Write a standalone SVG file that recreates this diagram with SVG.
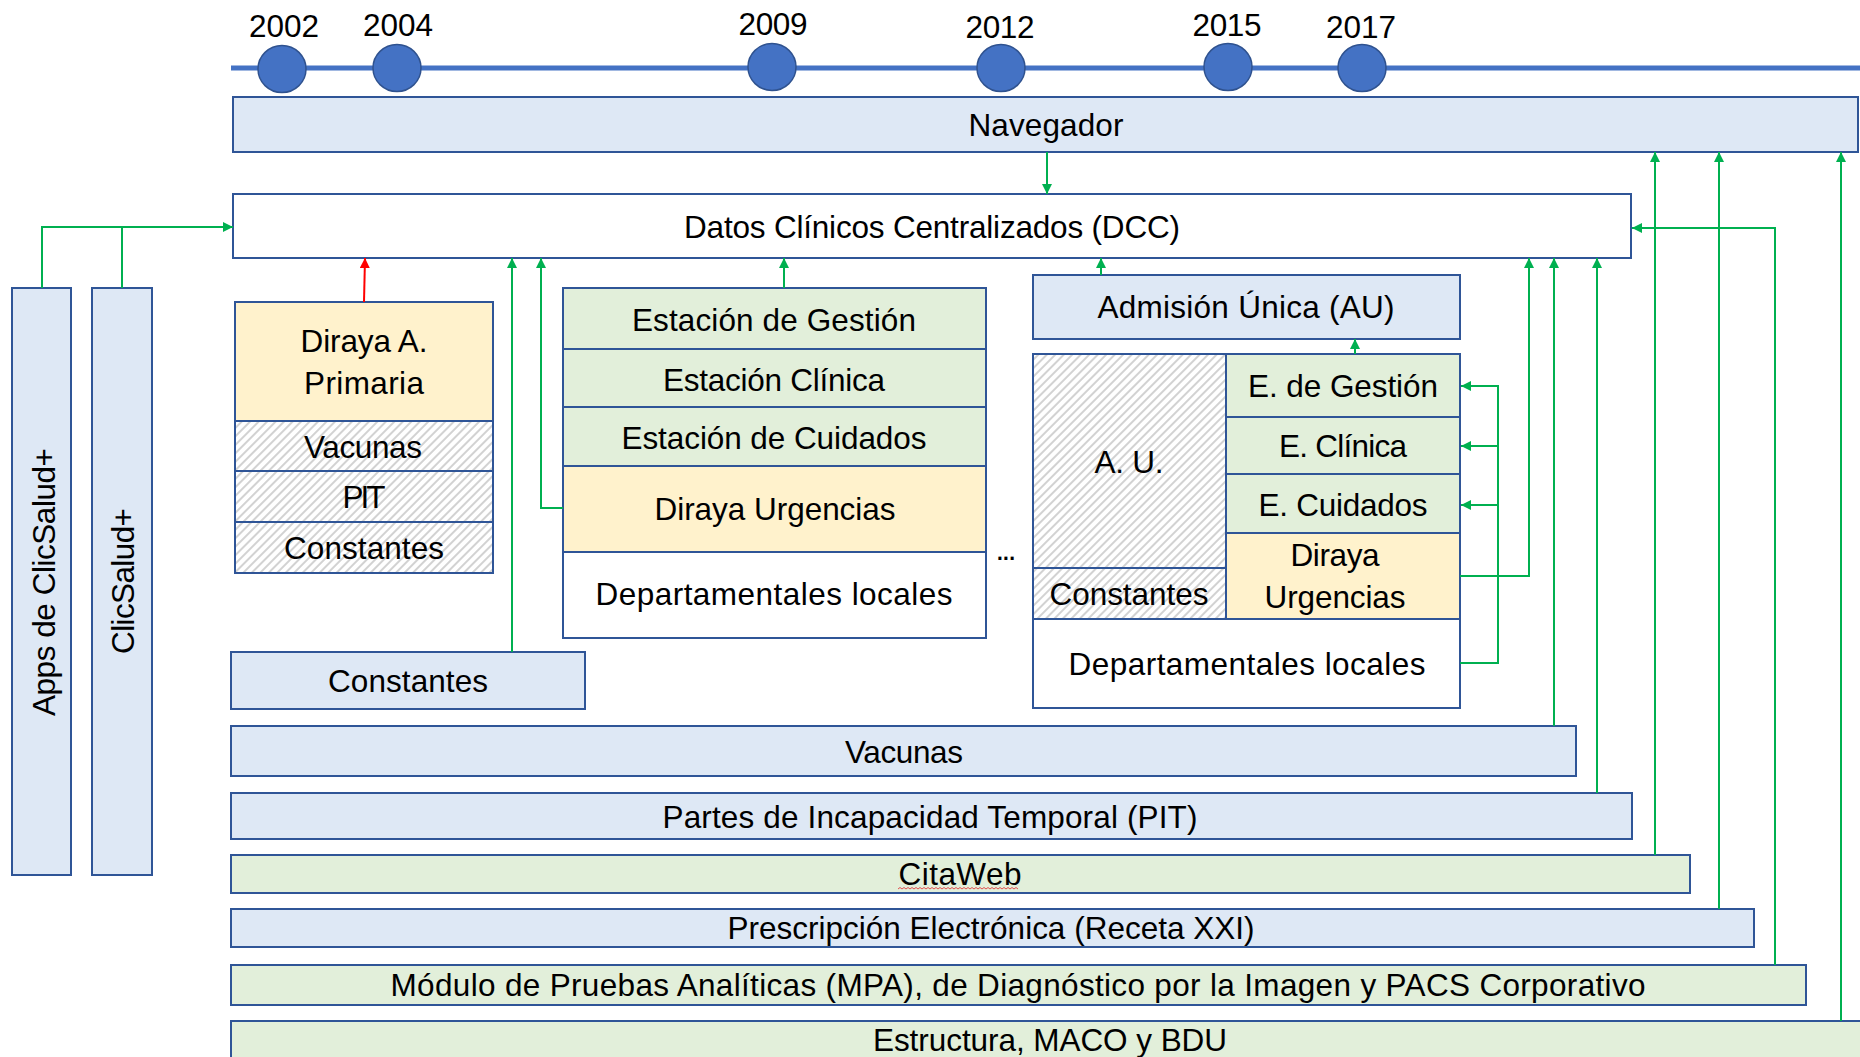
<svg xmlns="http://www.w3.org/2000/svg" width="1860" height="1057" viewBox="0 0 1860 1057">
<defs>
<style>
.t{font-family:"Liberation Sans",Arial,sans-serif;font-size:31.5px;fill:#000;text-anchor:middle}
.b{fill:#dee8f5;stroke:#2f5597;stroke-width:2}
.g{fill:#e2efda;stroke:#2f5597;stroke-width:2}
.y{fill:#fff2cc;stroke:#2f5597;stroke-width:2}
.w{fill:#ffffff;stroke:#2f5597;stroke-width:2}
.h{fill:url(#hatch);stroke:#2f5597;stroke-width:2}
.c{fill:none;stroke:#00b050;stroke-width:2}
.yr{fill:#4472c4;stroke:#2f528f;stroke-width:1.5}
</style>
<pattern id="hatch" patternUnits="userSpaceOnUse" width="6" height="6" patternTransform="rotate(45)">
<rect width="6" height="6" fill="#ffffff"/>
<line x1="1" y1="0" x2="1" y2="6" stroke="#b4b4b4" stroke-width="1.2"/>
</pattern>
<marker id="ag" viewBox="0 0 10 10" refX="10" refY="5" markerWidth="11" markerHeight="10" markerUnits="userSpaceOnUse" orient="auto">
<path d="M0,0 L10,5 L0,10 z" fill="#00b050"/>
</marker>
<marker id="ar" viewBox="0 0 10 10" refX="10" refY="5" markerWidth="11" markerHeight="10" markerUnits="userSpaceOnUse" orient="auto">
<path d="M0,0 L10,5 L0,10 z" fill="#ff0000"/>
</marker>
</defs>
<rect width="1860" height="1057" fill="#ffffff"/>

<g id="timeline">
<line x1="231" y1="68" x2="1860" y2="68" stroke="#4472c4" stroke-width="5"/>
<ellipse class="yr" cx="282" cy="69" rx="24" ry="23.5"/>
<ellipse class="yr" cx="397" cy="68" rx="24" ry="23.5"/>
<ellipse class="yr" cx="772" cy="67" rx="24" ry="23.5"/>
<ellipse class="yr" cx="1001" cy="68" rx="24" ry="23.5"/>
<ellipse class="yr" cx="1228" cy="67" rx="24" ry="23.5"/>
<ellipse class="yr" cx="1362" cy="68" rx="24" ry="23.5"/>
<text class="t" x="284" y="37" font-size="31" textLength="70">2002</text>
<text class="t" x="398" y="36" font-size="31" textLength="70">2004</text>
<text class="t" x="773" y="35" font-size="31" textLength="69">2009</text>
<text class="t" x="1000" y="38" font-size="31" textLength="69">2012</text>
<text class="t" x="1227" y="36" font-size="31" textLength="69">2015</text>
<text class="t" x="1361" y="38" font-size="31" textLength="70">2017</text>
</g>

<g id="navegador">
<rect class="b" x="233" y="97" width="1625" height="55"/>
<text class="t" x="1046" y="136" textLength="155">Navegador</text>
</g>

<g id="dcc">
<rect class="w" x="233" y="194" width="1398" height="64"/>
<text class="t" x="932" y="238" textLength="496">Datos Clínicos Centralizados (DCC)</text>
</g>

<g id="apps-clicsalud">
<rect class="b" x="12" y="288" width="59" height="587"/>
<text class="t" transform="translate(55,582) rotate(-90)" font-size="33" textLength="268">Apps de ClicSalud+</text>
</g>

<g id="clicsalud">
<rect class="b" x="92" y="288" width="60" height="587"/>
<text class="t" transform="translate(134,581) rotate(-90)" font-size="33" textLength="146">ClicSalud+</text>
</g>

<g id="diraya-ap">
<rect class="y" x="235" y="302" width="258" height="119"/>
<rect class="h" x="235" y="421" width="258" height="50"/>
<rect class="h" x="235" y="471" width="258" height="51"/>
<rect class="h" x="235" y="522" width="258" height="51"/>
<text class="t" x="364" y="352" textLength="127">Diraya A.</text>
<text class="t" x="364" y="394" textLength="120">Primaria</text>
<text class="t" x="363" y="458" textLength="118">Vacunas</text>
<text class="t" x="364" y="508" textLength="43">PIT</text>
<text class="t" x="364" y="559" textLength="160">Constantes</text>
</g>

<g id="constantes">
<rect class="b" x="231" y="652" width="354" height="57"/>
<text class="t" x="408" y="692" textLength="160">Constantes</text>
</g>

<g id="estaciones">
<rect class="g" x="563" y="288" width="423" height="61"/>
<rect class="g" x="563" y="349" width="423" height="58"/>
<rect class="g" x="563" y="407" width="423" height="59"/>
<rect class="y" x="563" y="466" width="423" height="86"/>
<rect class="w" x="563" y="552" width="423" height="86"/>
<text class="t" x="774" y="331" textLength="284">Estación de Gestión</text>
<text class="t" x="774" y="391" textLength="222">Estación Clínica</text>
<text class="t" x="774" y="449" textLength="305">Estación de Cuidados</text>
<text class="t" x="775" y="520" textLength="241">Diraya Urgencias</text>
<text class="t" x="774" y="605" textLength="357">Departamentales locales</text>
</g>

<g id="ellipsis">
<text class="t" x="1006" y="560" textLength="21">...</text>
</g>

<g id="au">
<rect class="b" x="1033" y="275" width="427" height="64"/>
<text class="t" x="1246" y="318" textLength="297">Admisión Única (AU)</text>
</g>

<g id="au-hospital">
<rect class="h" x="1033" y="354" width="193" height="214"/>
<rect class="h" x="1033" y="568" width="193" height="51"/>
<rect class="g" x="1226" y="354" width="234" height="63"/>
<rect class="g" x="1226" y="417" width="234" height="57"/>
<rect class="g" x="1226" y="474" width="234" height="59"/>
<rect class="y" x="1226" y="533" width="234" height="86"/>
<rect class="w" x="1033" y="619" width="427" height="89"/>
<text class="t" x="1129" y="473" textLength="69">A. U.</text>
<text class="t" x="1129" y="605" textLength="159">Constantes</text>
<text class="t" x="1343" y="397" textLength="190">E. de Gestión</text>
<text class="t" x="1343" y="457" textLength="128">E. Clínica</text>
<text class="t" x="1343" y="516" textLength="169">E. Cuidados</text>
<text class="t" x="1335" y="566" textLength="89">Diraya</text>
<text class="t" x="1335" y="608" textLength="141">Urgencias</text>
<text class="t" x="1247" y="675" textLength="357">Departamentales locales</text>
</g>

<g id="vacunas">
<rect class="b" x="231" y="726" width="1345" height="50"/>
<text class="t" x="904" y="763" textLength="118">Vacunas</text>
</g>

<g id="pit">
<rect class="b" x="231" y="793" width="1401" height="46"/>
<text class="t" x="930" y="828" textLength="535">Partes de Incapacidad Temporal (PIT)</text>
</g>

<g id="citaweb">
<rect class="g" x="231" y="855" width="1459" height="38"/>
<text class="t" x="960" y="885" textLength="123">CitaWeb</text>
<path d="M898 889 l2 -1.5 l2 1.5 l2 -1.5 l2 1.5 l2 -1.5 l2 1.5 l2 -1.5 l2 1.5 l2 -1.5 l2 1.5 l2 -1.5 l2 1.5 l2 -1.5 l2 1.5 l2 -1.5 l2 1.5 l2 -1.5 l2 1.5 l2 -1.5 l2 1.5 l2 -1.5 l2 1.5 l2 -1.5 l2 1.5 l2 -1.5 l2 1.5 l2 -1.5 l2 1.5 l2 -1.5 l2 1.5 l2 -1.5 l2 1.5 l2 -1.5 l2 1.5 l2 -1.5 l2 1.5 l2 -1.5 l2 1.5 l2 -1.5 l2 1.5 l2 -1.5 l2 1.5 l2 -1.5 l2 1.5 l2 -1.5 l2 1.5 l2 -1.5 l2 1.5 l2 -1.5 l2 1.5 l2 -1.5 l2 1.5 l2 -1.5 l2 1.5 l2 -1.5 l2 1.5 l2 -1.5 l2 1.5 l2 -1.5 l2 1.5" fill="none" stroke="#e05050" stroke-width="1"/>
</g>

<g id="receta">
<rect class="b" x="231" y="909" width="1523" height="38"/>
<text class="t" x="991" y="939" textLength="527">Prescripción Electrónica (Receta XXI)</text>
</g>

<g id="mpa">
<rect class="g" x="231" y="965" width="1575" height="40"/>
<text class="t" x="1018" y="996" textLength="1255">Módulo de Pruebas Analíticas (MPA), de Diagnóstico por la Imagen y PACS Corporativo</text>
</g>

<g id="estructura">
<rect class="g" x="231" y="1021" width="1640" height="50"/>
<text class="t" x="1050" y="1051" textLength="354">Estructura, MACO y BDU</text>
</g>

<g id="connectors">
<path class="c" d="M1047 152 V194" marker-end="url(#ag)"/>
<path class="c" d="M42 288 V227 H233" marker-end="url(#ag)"/>
<path class="c" d="M122 288 V227"/>
<path d="M364 302 L365 258" fill="none" stroke="#ff0000" stroke-width="2" marker-end="url(#ar)"/>
<path class="c" d="M512 652 V258" marker-end="url(#ag)"/>
<path class="c" d="M563 508 H541 V258" marker-end="url(#ag)"/>
<path class="c" d="M784 288 V258" marker-end="url(#ag)"/>
<path class="c" d="M1101 275 V258" marker-end="url(#ag)"/>
<path class="c" d="M1355 354 V339" marker-end="url(#ag)"/>
<path class="c" d="M1460 663 H1498 V386 H1461" marker-end="url(#ag)"/>
<path class="c" d="M1498 446 H1461" marker-end="url(#ag)"/>
<path class="c" d="M1498 505 H1461" marker-end="url(#ag)"/>
<path class="c" d="M1460 576 H1529 V258" marker-end="url(#ag)"/>
<path class="c" d="M1554 726 V258" marker-end="url(#ag)"/>
<path class="c" d="M1597 793 V258" marker-end="url(#ag)"/>
<path class="c" d="M1655 855 V152" marker-end="url(#ag)"/>
<path class="c" d="M1719 909 V152" marker-end="url(#ag)"/>
<path class="c" d="M1775 965 V228 H1632" marker-end="url(#ag)"/>
<path class="c" d="M1841 1021 V152" marker-end="url(#ag)"/>
</g>
</svg>
